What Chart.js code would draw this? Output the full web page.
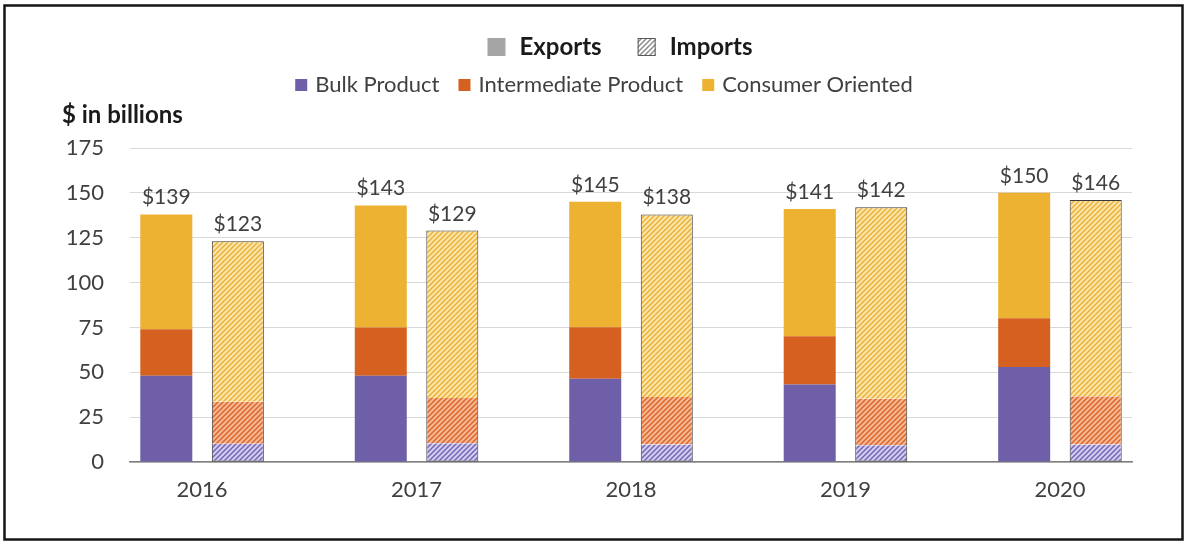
<!DOCTYPE html>
<html><head><meta charset="utf-8">
<script src="https://cdn.jsdelivr.net/npm/chart.js@4.4.0/dist/chart.umd.min.js"></script>
<style>html,body{margin:0;padding:0;background:#fff;}#wrap{width:1187px;height:544px;position:relative;}</style>
</head><body><div id="wrap"><canvas id="c" width="1187" height="544"></canvas></div>
<script>
const years = ['2016', '2017', '2018', '2019', '2020'];
const exportBulk = [48, 48, 46.4, 43.2, 52.9];
const exportIntermediate = [26, 27, 28.7, 26.9, 27.2];
const exportConsumer = [64, 68, 69.9, 70.9, 69.9];
const importBulk = [10.2, 10.4, 9.8, 9.3, 9.8];
const importIntermediate = [23.4, 25.2, 26.4, 26, 26.9];
const importConsumer = [89.4, 93.4, 101.8, 106.7, 109.3];
const exportTotals = [139, 143, 145, 141, 150];
const importTotals = [123, 129, 138, 142, 146];
const yTicks = [0, 25, 50, 75, 100, 125, 150, 175];
const categoryNames = ['Bulk Product', 'Intermediate Product', 'Consumer Oriented'];
const flowNames = ['Exports', 'Imports'];

const FONT = 'Lato';
const TXT = '#404040';

function hatch(bg, fg) {
  const s = 5;
  const c = document.createElement('canvas'); c.width = s; c.height = s;
  const g = c.getContext('2d');
  g.fillStyle = bg; g.fillRect(0, 0, s, s);
  g.strokeStyle = fg; g.lineWidth = 1.5;
  g.beginPath();
  g.moveTo(0, s); g.lineTo(s, 0);
  g.moveTo(-1, 1); g.lineTo(1, -1);
  g.moveTo(s - 1, s + 1); g.lineTo(s + 1, s - 1);
  g.stroke();
  return document.createElement('canvas').getContext('2d').createPattern(c, 'repeat');
}

const solid = ['#6E5FA8', '#D5601F', '#EDB232'];
const hatched = [hatch('#D3CDF0', '#7565B5'), hatch('#F8B893', '#DA662C'), hatch('#FDE6AC', '#EAB038')];
const legendHatch = hatch('#FFFFFF', '#8C8C8C');

const pts = arr => arr.map((v, i) => ({ x: i, y: v }));
const impBorder = '#3A3A3A';
const datasets = [
  { label: categoryNames[0], stack: 'ex', data: pts(exportBulk), backgroundColor: solid[0], borderWidth: 0 },
  { label: categoryNames[1], stack: 'ex', data: pts(exportIntermediate), backgroundColor: solid[1], borderWidth: 0 },
  { label: categoryNames[2], stack: 'ex', data: pts(exportConsumer), backgroundColor: solid[2], borderWidth: 0 },
  { label: categoryNames[0], stack: 'im', data: pts(importBulk), backgroundColor: hatched[0], borderColor: impBorder, borderSkipped: false, borderWidth: { left: 1, right: 1, top: 0, bottom: 1 } },
  { label: categoryNames[1], stack: 'im', data: pts(importIntermediate), backgroundColor: hatched[1], borderColor: impBorder, borderSkipped: false, borderWidth: { left: 1, right: 1, top: 0, bottom: 0 } },
  { label: categoryNames[2], stack: 'im', data: pts(importConsumer), backgroundColor: hatched[2], borderColor: impBorder, borderSkipped: false, borderWidth: { left: 1, right: 1, top: 1, bottom: 0 } }
];

const decor = {
  id: 'decor',
  afterDatasetsDraw(chart) {
    const ctx = chart.ctx;
    ctx.save();
    ctx.font = '21px ' + FONT;
    ctx.fillStyle = TXT;
    ctx.textAlign = 'center';
    ctx.textBaseline = 'alphabetic';
    [[2, exportTotals], [5, importTotals]].forEach(([k, totals]) => {
      const meta = chart.getDatasetMeta(k);
      meta.data.forEach((el, i) => {
        ctx.fillText('$' + totals[i], el.x, el.y - 10);
      });
    });
    ctx.restore();
  },
  afterDraw(chart) {
    const ctx = chart.ctx;
    ctx.save();
    // frame
    ctx.strokeStyle = '#151515';
    ctx.lineWidth = 2.5;
    ctx.strokeRect(4.5, 5.5, 1178, 534);
    // y title
    ctx.font = 'bold 24px ' + FONT;
    ctx.fillStyle = '#1a1a1a';
    ctx.textAlign = 'left';
    ctx.textBaseline = 'middle';
    ctx.fillText('$ in billions', 62, 115);
    // legend row 1
    ctx.font = 'bold 24px ' + FONT;
    const sq1 = 18, gapST = 14, gapTS = 36;
    const w1 = flowNames.map(t => ctx.measureText(t).width);
    let total1 = sq1 * 2 + gapST * 2 + w1[0] + w1[1] + gapTS;
    let x = 620 - total1 / 2;
    const y1 = 47;
    ctx.fillStyle = '#A5A5A5';
    ctx.fillRect(x, y1 - sq1 / 2, sq1, sq1);
    ctx.fillStyle = '#1a1a1a';
    ctx.fillText(flowNames[0], x + sq1 + gapST, y1);
    x += sq1 + gapST + w1[0] + gapTS;
    ctx.fillStyle = legendHatch;
    ctx.fillRect(x, y1 - sq1 / 2, sq1, sq1);
    ctx.strokeStyle = '#595959'; ctx.lineWidth = 1;
    ctx.strokeRect(x + 0.5, y1 - sq1 / 2 + 0.5, sq1 - 1, sq1 - 1);
    ctx.fillStyle = '#1a1a1a';
    ctx.fillText(flowNames[1], x + sq1 + gapST, y1);
    // legend row 2
    ctx.font = '22px ' + FONT;
    const sq2 = 12, g2a = 8, g2b = 19;
    const w2 = categoryNames.map(t => ctx.measureText(t).width);
    let total2 = 3 * (sq2 + g2a) + w2.reduce((a, b) => a + b, 0) + 2 * g2b;
    x = 604 - total2 / 2;
    const y2 = 85;
    categoryNames.forEach((t, i) => {
      ctx.fillStyle = solid[i];
      ctx.fillRect(x, y2 - sq2 / 2, sq2, sq2);
      ctx.fillStyle = TXT;
      ctx.fillText(t, x + sq2 + g2a, y2);
      x += sq2 + g2a + w2[i] + g2b;
    });
    ctx.restore();
  }
};

new Chart(document.getElementById('c'), {
  type: 'bar',
  data: { datasets },
  plugins: [decor],
  options: {
    responsive: false,
    devicePixelRatio: 1,
    animation: false,
    events: [],
    categoryPercentage: 0.667,
    barPercentage: 0.727,
    layout: { padding: { top: 148, right: 55, bottom: 0, left: 0 } },
    plugins: { legend: { display: false }, tooltip: { enabled: false }, title: { display: false } },
    scales: {
      x: {
        type: 'linear',
        min: -0.336,
        max: 4.336,
        offset: false,
        afterBuildTicks: s => { s.ticks = years.map((_, i) => ({ value: i })); },
        afterFit: s => { s.height = 82; },
        grid: { display: false, drawTicks: false },
        border: { display: true, color: '#7F7F7F', width: 1.5 },
        ticks: { callback: v => years[v], font: { family: FONT, size: 22 }, color: TXT, padding: 15, maxRotation: 0, autoSkip: false }
      },
      y: {
        stacked: true,
        min: 0,
        max: 175,
        afterBuildTicks: s => { s.ticks = yTicks.map(v => ({ value: v })); },
        afterFit: s => { s.width = 130; },
        grid: { color: '#D9D9D9', drawTicks: false },
        border: { display: false },
        ticks: { font: { family: FONT, size: 22 }, color: TXT, padding: 26 }
      }
    }
  }
});
</script>
</body></html>
